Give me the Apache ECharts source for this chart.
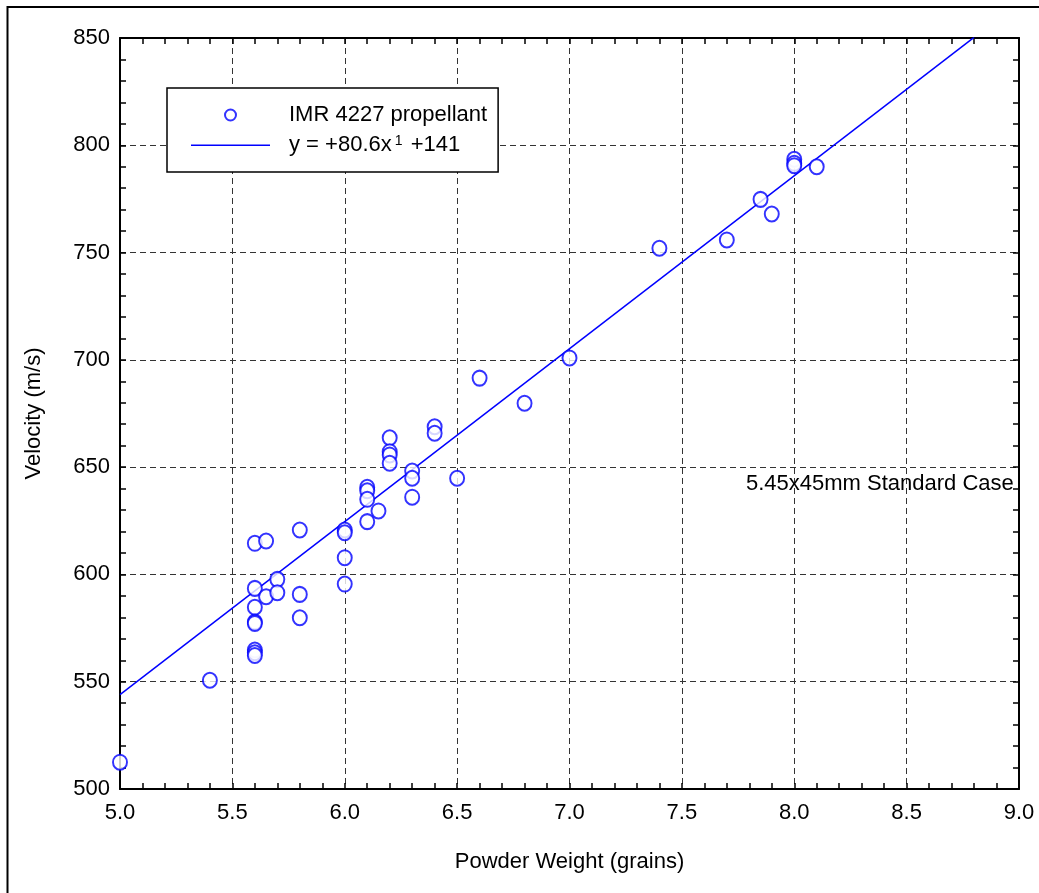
<!DOCTYPE html>
<html>
<head>
<meta charset="utf-8">
<script src="https://cdn.jsdelivr.net/npm/echarts@6/dist/echarts.min.js"></script>
<style>
html,body{margin:0;padding:0;background:#fff;}
#chart{width:1039px;height:893px;}
</style>
</head>
<body>
<div id="chart"></div>
<script>
// Measured data: powder weight (grains) vs velocity (m/s)
const powderWeight = [
  5.0, 5.4,
  5.6, 5.6, 5.6, 5.6, 5.6, 5.6, 5.6, 5.6,
  5.65, 5.65,
  5.7, 5.7,
  5.8, 5.8, 5.8,
  6.0, 6.0, 6.0, 6.0,
  6.1, 6.1, 6.1, 6.1,
  6.15,
  6.2, 6.2, 6.2, 6.2,
  6.3, 6.3, 6.3,
  6.4, 6.4,
  6.5, 6.6, 6.8, 7.0, 7.4, 7.7, 7.85, 7.9,
  8.0, 8.0, 8.0, 8.1
];
const velocity = [
  512.5, 550.7,
  614.5, 593.5, 584.7, 577.8, 577.2, 564.8, 563.5, 562.2,
  615.6, 589.6,
  597.7, 591.5,
  620.7, 590.7, 579.8,
  620.7, 619.4, 607.8, 595.5,
  640.6, 639.0, 635.0, 624.6,
  629.6,
  663.7, 657.2, 655.7, 651.8,
  648.2, 644.8, 636.0,
  668.8, 665.8,
  644.8, 691.5, 679.8, 700.9, 752.0, 755.9, 774.8, 768.0,
  793.5, 791.6, 790.5, 790.0
];
// Fit line endpoints (y = +80.6x +141)
const fitX = [5.0, 8.8];
const fitY = [544.0, 850.3];

const xTicks = {min: 5.0, max: 9.0, interval: 0.5};
const yTicks = {min: 500, max: 850, interval: 50};

const seriesName1 = 'IMR 4227 propellant';
const seriesName2 = 'fit';
const annotation = '5.45x45mm Standard Case';

const FONT = "'Liberation Sans', Arial, Helvetica, sans-serif";
const BLUE = '#0000ff';

const scatterData = powderWeight.map((x, i) => [x, velocity[i]]);
const fitData = fitX.map((x, i) => [x, fitY[i]]);

const chart = echarts.init(document.getElementById('chart'), null, {renderer: 'canvas'});

const tickCommon = {show: true, inside: true, length: 6, lineStyle: {color: '#000', width: 1.5}};
const minorCommon = {show: true, splitNumber: 5, length: 6, lineStyle: {color: '#000', width: 1.5}};
const axisLineCommon = {show: true, onZero: false, lineStyle: {color: '#000', width: 2}};

chart.setOption({
  animation: false,
  backgroundColor: '#fff',
  textStyle: {fontFamily: FONT},
  grid: {left: 120, top: 38, right: 20, bottom: 104, containLabel: false},
  xAxis: [{
    type: 'value', position: 'bottom',
    min: xTicks.min, max: xTicks.max, interval: xTicks.interval,
    name: 'Powder Weight (grains)', nameLocation: 'middle', nameGap: 62,
    nameTextStyle: {fontFamily: FONT, fontSize: 22, color: '#000'},
    axisLine: axisLineCommon,
    axisTick: tickCommon,
    minorTick: minorCommon,
    axisLabel: {fontFamily: FONT, fontSize: 22, color: '#000', margin: 13,
      formatter: v => v.toFixed(1)},
    splitLine: {show: true, lineStyle: {color: '#333', type: [6, 4], width: 1}}
  }, {
    type: 'value', position: 'top',
    min: xTicks.min, max: xTicks.max, interval: xTicks.interval,
    axisLine: axisLineCommon,
    axisTick: tickCommon,
    minorTick: minorCommon,
    axisLabel: {show: false},
    splitLine: {show: false}
  }],
  yAxis: [{
    type: 'value', position: 'left',
    min: yTicks.min, max: yTicks.max, interval: yTicks.interval,
    name: 'Velocity (m/s)', nameLocation: 'middle', nameGap: 75,
    nameTextStyle: {fontFamily: FONT, fontSize: 22, color: '#000'},
    axisLine: axisLineCommon,
    axisTick: tickCommon,
    minorTick: minorCommon,
    axisLabel: {fontFamily: FONT, fontSize: 22, color: '#000', margin: 10},
    splitLine: {show: true, lineStyle: {color: '#333', type: [6, 4], width: 1}}
  }, {
    type: 'value', position: 'right',
    min: yTicks.min, max: yTicks.max, interval: yTicks.interval,
    axisLine: axisLineCommon,
    axisTick: tickCommon,
    minorTick: minorCommon,
    axisLabel: {show: false},
    splitLine: {show: false}
  }],
  legend: {
    orient: 'vertical',
    left: 167, top: 88,
    padding: [16, 11, 16, 24],
    itemWidth: 79, itemHeight: 11, itemGap: 8,
    borderColor: '#000', borderWidth: 1.5,
    backgroundColor: '#fff',
    data: [
      {name: seriesName1},
      {name: seriesName2, icon: 'path://M0,0 M0,10 L158,10 L158,13 L0,13 Z M0,22'}
    ],
    textStyle: {
      fontFamily: FONT, fontSize: 22, color: '#000',
      padding: [0, 0, 0, 14],
      rich: {
        a: {fontFamily: FONT, fontSize: 22, color: '#000'},
        s: {fontFamily: FONT, fontSize: 14, color: '#000', padding: [0, 2, 8, 3]}
      }
    },
    formatter: function (name) {
      if (name === seriesName2) return '{a|y = +80.6x}{s|1}{a| +141}';
      return '{a|' + name + '}';
    }
  },
  graphic: [{
    type: 'rect', silent: true, z: -1,
    shape: {x: 7.5, y: 7, width: 1200, height: 1000},
    style: {fill: 'none', stroke: '#000', lineWidth: 2}
  }, {
    type: 'text', left: 746, top: 473, z: 10,
    style: {text: annotation, fontFamily: FONT, fontSize: 22, fill: '#000'}
  }],
  series: [{
    name: seriesName1,
    type: 'scatter',
    data: scatterData,
    symbol: 'emptyCircle',
    symbolSize: [14, 15],
    itemStyle: {color: BLUE, borderColor: BLUE, borderWidth: 2},
    z: 3
  }, {
    name: seriesName2,
    type: 'line',
    data: fitData,
    showSymbol: false,
    symbol: 'none',
    clip: true,
    lineStyle: {color: BLUE, width: 1.5},
    itemStyle: {color: BLUE},
    z: 2
  }]
});
</script>
</body>
</html>
